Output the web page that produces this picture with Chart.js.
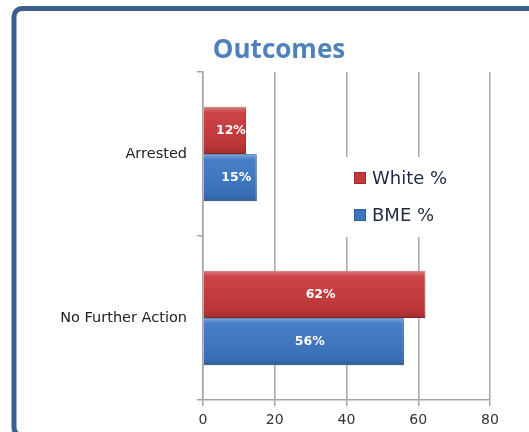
<!DOCTYPE html>
<html>
<head>
<meta charset="utf-8">
<script src="https://cdn.jsdelivr.net/npm/chart.js@4.4.1/dist/chart.umd.min.js"></script>
<style>
  html, body { margin: 0; padding: 0; background: #fff; overflow: hidden; }
  #wrap { width: 529px; height: 432px; }
</style>
</head>
<body>
<div id="wrap"><canvas id="chart"></canvas></div>
<script>
const categories = ['Arrested', 'No Further Action'];
const whitePct = [12, 62];
const bmePct = [15, 56];
const xTicks = [0, 20, 40, 60, 80];

const red = '#c8393b';
const blue = '#3c77c4';

// frame round the whole picture (runs off the right and bottom) + the title
const frame = {
  id: 'frame',
  beforeDraw(chart) {
    const {ctx} = chart;
    ctx.save();
    ctx.strokeStyle = '#3b5f8c';
    ctx.lineWidth = 5;
    const x = 14, y = 8.5, h = 427, r = 8;
    ctx.beginPath();
    ctx.moveTo(700, y);
    ctx.lineTo(x + r, y);
    ctx.arcTo(x, y, x, y + r, r);
    ctx.lineTo(x, y + h - r);
    ctx.arcTo(x, y + h, x + r, y + h, r);
    ctx.lineTo(700, y + h);
    ctx.stroke();

    ctx.fillStyle = '#4f81bd';
    ctx.font = 'bold 26px "Open Sans"';
    ctx.textAlign = 'center';
    ctx.textBaseline = 'middle';
    ctx.fillText('Outcomes', 279, 51);
    ctx.restore();
  }
};

// bevel shading + value labels in the bars
const barLabels = {
  id: 'barLabels',
  afterDatasetsDraw(chart) {
    const {ctx} = chart;
    ctx.save();
    chart.data.datasets.forEach((ds, di) => {
      chart.getDatasetMeta(di).data.forEach((bar) => {
        const top = bar.y - bar.height / 2;
        const g = ctx.createLinearGradient(0, top, 0, top + bar.height);
        g.addColorStop(0, 'rgba(255,255,255,0.35)');
        g.addColorStop(0.12, 'rgba(255,255,255,0.05)');
        g.addColorStop(0.85, 'rgba(0,0,0,0.08)');
        g.addColorStop(1, 'rgba(0,0,0,0.2)');
        ctx.fillStyle = g;
        ctx.fillRect(bar.base, top, bar.x - bar.base, bar.height);
      });
    });
    ctx.fillStyle = '#ffffff';
    ctx.font = 'bold 12.5px "DejaVu Sans"';
    ctx.textAlign = 'center';
    ctx.textBaseline = 'middle';
    chart.data.datasets.forEach((ds, di) => {
      chart.getDatasetMeta(di).data.forEach((bar, i) => {
        const p = bar.getCenterPoint();
        ctx.fillText(ds.data[i] + '%', p.x + 6, p.y);
      });
    });
    ctx.restore();
  }
};

// legend sitting inside the plot on a white box
const innerLegend = {
  id: 'innerLegend',
  afterDraw(chart) {
    const {ctx} = chart;
    ctx.save();
    ctx.fillStyle = '#ffffff';
    ctx.fillRect(336, 157, 140, 80);
    ctx.font = '18px "DejaVu Sans"';
    ctx.textBaseline = 'middle';
    chart.data.datasets.forEach((ds, i) => {
      const y = 178 + i * 37;
      ctx.fillStyle = ds.backgroundColor;
      ctx.fillRect(354, y - 6, 12, 12);
      ctx.strokeStyle = ds.borderColor;
      ctx.lineWidth = 1;
      ctx.strokeRect(354.5, y - 5.5, 11, 11);
      ctx.fillStyle = '#1f2a44';
      ctx.fillText(ds.label, 372, y + 1);
    });
    ctx.restore();
  }
};

new Chart(document.getElementById('chart'), {
  type: 'bar',
  data: {
    labels: categories,
    datasets: [
      {
        label: 'White %',
        data: whitePct,
        backgroundColor: red,
        borderColor: '#9c2a2c',
        borderWidth: 1,
        categoryPercentage: 0.575,
        barPercentage: 1
      },
      {
        label: 'BME %',
        data: bmePct,
        backgroundColor: blue,
        borderColor: '#2b5a96',
        borderWidth: 1,
        categoryPercentage: 0.575,
        barPercentage: 1
      }
    ]
  },
  options: {
    indexAxis: 'y',
    responsive: true,
    maintainAspectRatio: false,
    animation: false,
    layout: {
      padding: {top: 72, right: 39, bottom: 0, left: 0}
    },
    plugins: {
      legend: {display: false},
      tooltip: {enabled: false},
      title: {display: false}
    },
    scales: {
      x: {
        min: 0,
        max: 80,
        afterBuildTicks(scale) {
          scale.ticks = xTicks.map(v => ({value: v}));
        },
        afterFit(scale) {
          scale.height = 32;
        },
        grid: {
          color: '#a6a6a6',
          lineWidth: 1.5,
          tickLength: 6,
          drawTicks: true
        },
        border: {color: '#a6a6a6', width: 1.5},
        ticks: {
          color: '#333333',
          padding: 6,
          font: {family: 'DejaVu Sans', size: 14}
        }
      },
      y: {
        afterFit(scale) {
          scale.width = 203;
        },
        grid: {
          drawOnChartArea: false,
          drawTicks: true,
          tickLength: 6,
          color: '#a6a6a6',
          lineWidth: 1.5
        },
        border: {color: '#a6a6a6', width: 1.5},
        ticks: {
          color: '#222222',
          padding: 10,
          font: {family: 'DejaVu Sans', size: 14.5}
        }
      }
    }
  },
  plugins: [frame, barLabels, innerLegend]
});
</script>
</body>
</html>
